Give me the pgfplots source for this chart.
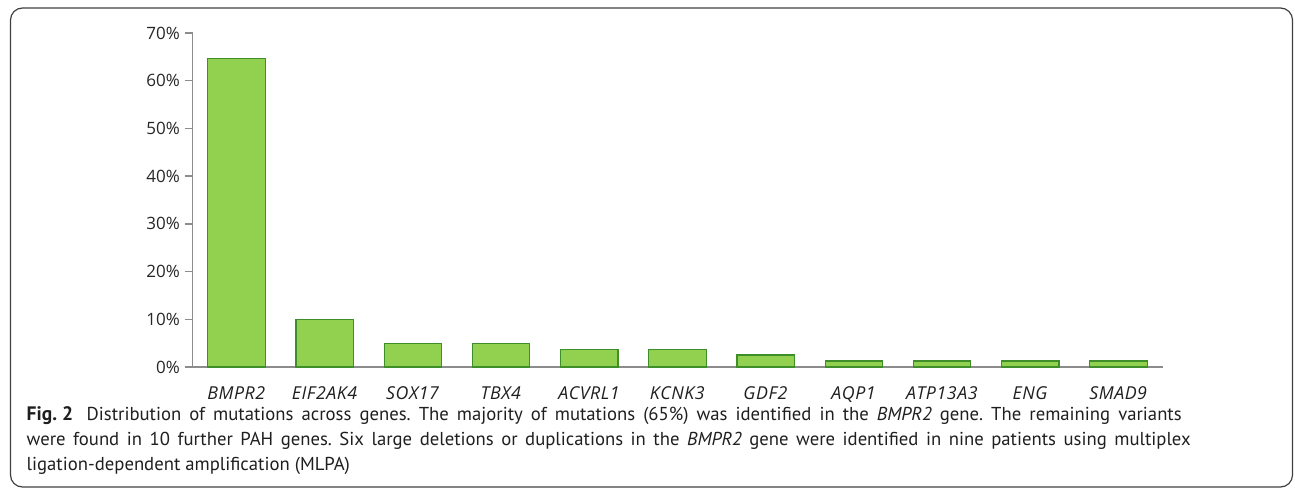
\documentclass[border=0pt]{standalone}
\usepackage{fontspec}
\usepackage{pgfplots}
\pgfplotsset{compat=1.18}
\setmainfont{PT Sans}
\newfontfamily\tickfont{Open Sans}
\newfontfamily\xtickfont[LetterSpace=3]{Open Sans}
\newfontfamily\capfont{PT Sans}
\definecolor{barfill}{HTML}{92D050}
\definecolor{baredge}{HTML}{3E8E2A}
\definecolor{axgray}{HTML}{8C8C8C}
\frenchspacing
\begin{document}
\begin{tikzpicture}[x=1pt,y=1pt]
\useasboundingbox (0,0) rectangle (1295,490);
\draw[line width=1.2pt, draw=black!75, rounded corners=12pt] (10.5,3) rectangle (1292.5,482);
\begin{axis}[
  at={(192.5pt,123pt)}, anchor=south west,
  scale only axis, width=970pt, height=334pt,
  xmin=-0.5, xmax=10.5, ymin=0, ymax=70,
  axis x line=bottom, axis y line=left,
  axis line style={-, draw=axgray, line width=1.3pt},
  xtick={0,...,10},
  xticklabels={\textit{BMPR2},\textit{EIF2AK4},\textit{SOX17},\textit{TBX4},\textit{ACVRL1},\textit{KCNK3},\textit{GDF2},\textit{AQP1},\textit{ATP13A3},\textit{ENG},\textit{SMAD9}},
  major x tick style={draw=none},
  ytick={0,10,...,70},
  yticklabel={\pgfmathprintnumber{\tick}\%},
  /pgf/number format/assume math mode=true,
  tick align=outside, major tick length=8pt,
  major y tick style={draw=axgray, line width=1.3pt},
  yticklabel style={font=\tickfont\fontsize{17}{20}\selectfont, text=black!85, anchor=east, inner sep=0pt, xshift=-4.5pt},
  xticklabel style={font=\xtickfont\fontsize{17.8}{20}\selectfont, text=black!88, anchor=base, yshift=-24pt, inner sep=0pt},
  clip=false,
]
\addplot[ybar, bar width=57.5pt, fill=barfill, draw=baredge, line width=1.2pt]
  coordinates {(0,64.6) (1,10) (2,5) (3,5) (4,3.75) (5,3.75) (6,2.5) (7,1.25) (8,1.25) (9,1.25) (10,1.25)};
\end{axis}
\begin{scope}[every node/.style={anchor=base west, inner sep=0pt, font=\capfont\fontsize{18.7}{22}\selectfont, text=black!88}]
\node at (26.5,70) {\makebox[60pt][l]{\bfseries\fontsize{19.5}{22}\selectfont Fig. 2}\makebox[1095pt][s]{Distribution of mutations across genes. The majority of mutations (65\%) was identified in the \textit{BMPR2} gene. The remaining variants}};
\node at (26.5,45) {\makebox[1164pt][s]{were found in 10 further PAH genes. Six large deletions or duplications in the \textit{BMPR2} gene were identified in nine patients using multiplex}};
\node at (26.5,20) {ligation-dependent amplification (MLPA)};
\end{scope}
\end{tikzpicture}
\end{document}
